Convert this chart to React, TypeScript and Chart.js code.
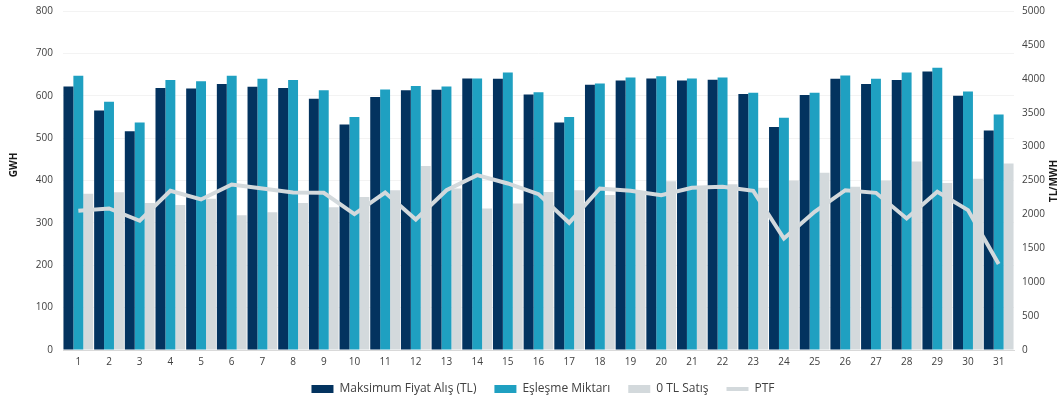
import React, { useEffect, useRef } from "react";
import { Chart, registerables } from "chart.js";

Chart.register(...registerables);

const days: string[] = Array.from({ length: 31 }, (_, i) => String(i + 1));

const maksimumFiyatAlis: number[] = [
  622, 565, 516, 618, 617, 628, 621, 618, 593, 532,
  597, 613, 614, 641, 640, 603, 537, 626, 636, 641,
  636, 638, 604, 526, 602, 640, 628, 637, 657, 600, 518,
];

const eslesmeMiktari: number[] = [
  647, 586, 537, 637, 634, 647, 640, 637, 613, 550,
  615, 623, 622, 641, 655, 608, 550, 629, 643, 646,
  641, 643, 607, 548, 607, 648, 640, 655, 666, 610, 556,
];

const sifirTlSatis: number[] = [
  369, 372, 347, 342, 357, 318, 325, 347, 337, 361,
  377, 434, 381, 334, 346, 373, 377, 366, 371, 398,
  387, 391, 383, 400, 418, 385, 400, 445, 394, 404, 440,
];

const ptf: number[] = [
  2053, 2087, 1906, 2348, 2220, 2441, 2382, 2323, 2318, 2005,
  2323, 1925, 2357, 2579, 2456, 2299, 1876, 2382, 2348, 2284,
  2392, 2407, 2348, 1645, 2038, 2357, 2318, 1940, 2333, 2063, 1267,
];

const leftTicks = [0, 100, 200, 300, 400, 500, 600, 700, 800];
const rightTicks = [0, 500, 1000, 1500, 2000, 2500, 3000, 3500, 4000, 4500, 5000];

const leftTitle = "GWH";
const rightTitle = "TL/MWH";

const FONT = "'Open Sans', 'Liberation Sans', sans-serif";

const axisTitlePlugin = {
  id: "axisTitles",
  afterLayout(chart: any) {
    const lg = chart.legend;
    if (lg) {
      lg.left += 20;
      lg.right += 20;
    }
  },
  afterDraw(chart: any) {
    const { ctx } = chart;
    ctx.save();
    ctx.fillStyle = "#1a1a1a";
    ctx.font = `bold 10px ${FONT}`;
    ctx.textAlign = "center";
    ctx.textBaseline = "middle";
    ctx.save();
    ctx.translate(14, 165);
    ctx.rotate(-Math.PI / 2);
    ctx.fillText(leftTitle, 0, 0);
    ctx.restore();
    ctx.save();
    ctx.translate(1054, 181);
    ctx.rotate(-Math.PI / 2);
    ctx.fillText(rightTitle, 0, 0);
    ctx.restore();
    ctx.restore();
  },
};

export default function App() {
  const ref = useRef<HTMLCanvasElement | null>(null);

  useEffect(() => {
    if (!ref.current) return;
    const barCommon = {
      type: "bar",
      borderWidth: 0,
      yAxisID: "y",
      order: 1,
      pointStyle: "rect",
      barPercentage: 1,
      categoryPercentage: 0.97,
    };
    const chart = new Chart(ref.current, {
      type: "bar",
      data: {
        labels: days,
        datasets: [
          { ...barCommon, label: "Maksimum Fiyat Alış (TL)", data: maksimumFiyatAlis, backgroundColor: "#03335f" },
          { ...barCommon, label: "Eşleşme Miktarı", data: eslesmeMiktari, backgroundColor: "#1fa0c1" },
          { ...barCommon, label: "0 TL Satış", data: sifirTlSatis, backgroundColor: "#d3d9dc" },
          {
            type: "line",
            label: "PTF",
            data: ptf,
            borderColor: "#d3d9dc",
            backgroundColor: "#d3d9dc",
            borderWidth: 4,
            pointRadius: 0,
            tension: 0,
            yAxisID: "y1",
            order: 0,
            pointStyle: "line",
          },
        ],
      },
      options: {
        animation: false,
        responsive: false,
        maintainAspectRatio: false,
        layout: { padding: { top: 11, right: 13, left: 0, bottom: 0 } },
        plugins: {
          tooltip: { enabled: false },
          legend: {
            position: "bottom",
            labels: {
              usePointStyle: true,
              pointStyleWidth: 22,
              boxWidth: 22,
              boxHeight: 8,
              padding: 18,
              color: "#404040",
              font: { family: FONT, size: 12 },
              sort: (a: any, b: any) => a.datasetIndex - b.datasetIndex,
            },
          },
        },
        scales: {
          x: {
            grid: { display: false, drawTicks: false },
            border: { display: true, color: "#d9d9d9", width: 1 },
            ticks: {
              color: "#404040",
              font: { family: FONT, size: 10 },
              padding: 6,
              maxRotation: 0,
              autoSkip: false,
            },
            afterFit: (scale: any) => {
              scale.height = 15;
              scale.paddingLeft = 0;
              scale.paddingRight = 0;
            },
          },
          y: {
            position: "left",
            min: 0,
            max: 800,
            afterBuildTicks: (scale: any) => {
              scale.ticks = leftTicks.map((v) => ({ value: v }));
            },
            afterFit: (scale: any) => {
              scale.width = 63;
              scale.paddingTop = 0;
              scale.paddingBottom = 0;
            },
            grid: { color: "#f3f3f3", drawTicks: false },
            border: { display: false },
            ticks: {
              color: "#404040",
              font: { family: FONT, size: 10 },
              padding: 10,
              callback: (v: any) => String(v),
            },
          },
          y1: {
            position: "right",
            min: 0,
            max: 5000,
            afterBuildTicks: (scale: any) => {
              scale.ticks = rightTicks.map((v) => ({ value: v }));
            },
            afterFit: (scale: any) => {
              scale.width = 32;
              scale.paddingTop = 0;
              scale.paddingBottom = 0;
            },
            grid: { display: false, drawTicks: false },
            border: { display: false },
            ticks: {
              color: "#404040",
              font: { family: FONT, size: 10 },
              padding: 8,
              callback: (v: any) => String(v),
            },
          },
        },
      },
      plugins: [axisTitlePlugin],
    } as any);
    return () => chart.destroy();
  }, []);

  return (
    <div style={{ position: "fixed", left: 0, top: 0, width: 1059, height: 405, background: "#fff" }}>
      <canvas ref={ref} width={1059} height={405} style={{ width: 1059, height: 405 }} />
    </div>
  );
}
